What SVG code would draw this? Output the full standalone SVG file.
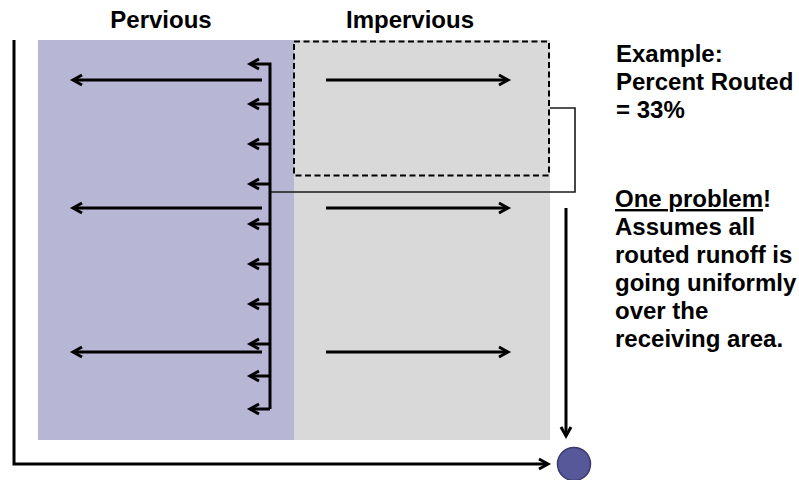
<svg xmlns="http://www.w3.org/2000/svg" width="799" height="480" viewBox="0 0 799 480">
<style>
.t{font-family:"Liberation Sans",Arial,sans-serif;font-weight:bold;font-size:24px;fill:#000}
.a{fill:none;stroke:#000;stroke-width:3}
.thin{fill:none;stroke:#1a1a1a;stroke-width:1.6}
</style>
<defs>
<marker id="ah" markerWidth="16" markerHeight="16" refX="11" refY="7" orient="auto" markerUnits="userSpaceOnUse">
<path d="M2,2 L11,7 L2,12" fill="none" stroke="#000" stroke-width="3"/>
</marker>
</defs>
<rect width="799" height="480" fill="#fff"/>
<g id="pervious">
<rect x="38" y="40" width="256" height="400" fill="#B7B7D5"/>
<text class="t" x="161" y="28" text-anchor="middle">Pervious</text>
</g>
<g id="impervious">
<rect x="294" y="40" width="256" height="400" fill="#D9D9D9"/>
<text class="t" x="410" y="28" text-anchor="middle">Impervious</text>
</g>
<g id="routed-area">
<rect x="294" y="41.5" width="255" height="134" fill="none" stroke="#000" stroke-width="2" stroke-dasharray="6,3.5"/>
</g>
<g id="outlet">
<circle cx="574" cy="464" r="16.5" fill="#56589A" stroke="#3A3B6B" stroke-width="1.5"/>
</g>
<g id="notes">
<text class="t" x="616" y="62">Example:</text>
<text class="t" x="616" y="90">Percent Routed</text>
<text class="t" x="616" y="118">= 33%</text>
<text class="t" x="615" y="207"><tspan text-decoration="underline">One problem</tspan>!</text>
<text class="t" x="615" y="235">Assumes all</text>
<text class="t" x="615" y="263">routed runoff is</text>
<text class="t" x="615" y="291">going uniformly</text>
<text class="t" x="615" y="319">over the</text>
<text class="t" x="615" y="347">receiving area.</text>
</g>
<g id="connectors">
<path class="thin" d="M270,192 H575 V108 H550"/>
<path class="a" d="M14,40 V464 H548" marker-end="url(#ah)"/>
<path class="a" d="M566,208 V436" marker-end="url(#ah)"/>
<path class="a" d="M270,409 V64 H250" marker-end="url(#ah)"/>
<path class="a" d="M270,409 H250" marker-end="url(#ah)"/>
<path class="a" d="M270,104 H250" marker-end="url(#ah)"/>
<path class="a" d="M270,144 H250" marker-end="url(#ah)"/>
<path class="a" d="M270,184 H250" marker-end="url(#ah)"/>
<path class="a" d="M270,224 H250" marker-end="url(#ah)"/>
<path class="a" d="M270,264 H250" marker-end="url(#ah)"/>
<path class="a" d="M270,304 H250" marker-end="url(#ah)"/>
<path class="a" d="M270,344 H250" marker-end="url(#ah)"/>
<path class="a" d="M270,376 H250" marker-end="url(#ah)"/>
<path class="a" d="M262,80 H73" marker-end="url(#ah)"/>
<path class="a" d="M262,208 H73" marker-end="url(#ah)"/>
<path class="a" d="M262,352 H73" marker-end="url(#ah)"/>
<path class="a" d="M326,80 H508" marker-end="url(#ah)"/>
<path class="a" d="M326,208 H508" marker-end="url(#ah)"/>
<path class="a" d="M326,352 H508" marker-end="url(#ah)"/>
</g>
</svg>
